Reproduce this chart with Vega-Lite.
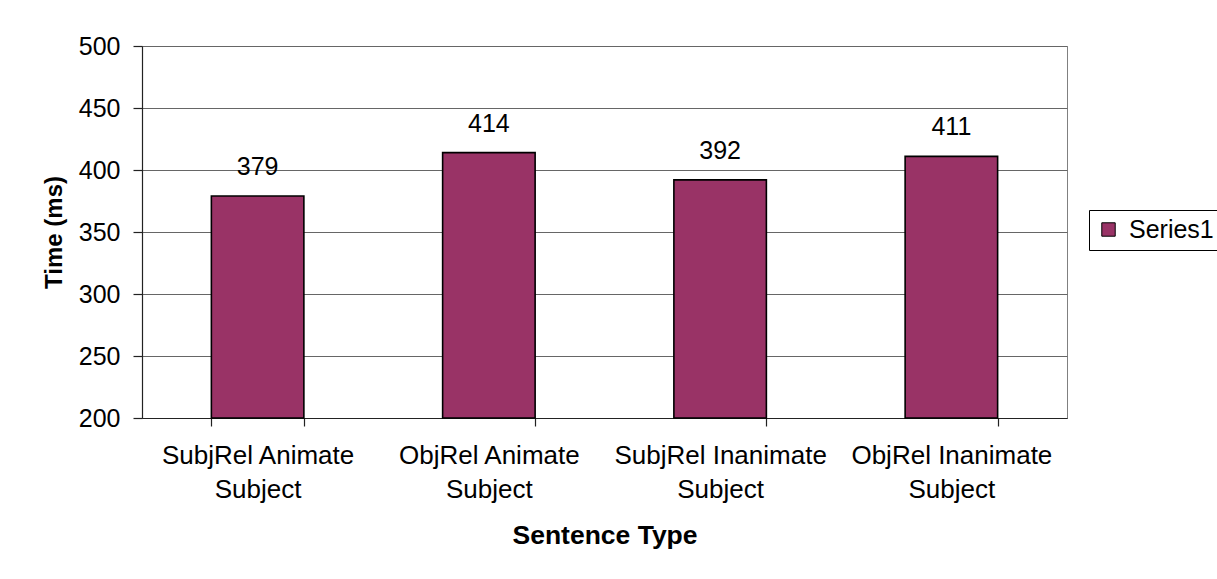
{
  "$schema": "https://vega.github.io/schema/vega-lite/v6.json",
  "autosize": {"type": "none"},
  "padding": {"left": 142, "top": 46, "right": 150, "bottom": 161},
  "width": 925,
  "height": 372,
  "background": "white",
  "config": {
    "font": "Liberation Sans",
    "view": {"stroke": "#808080", "strokeWidth": 1},
    "axis": {
      "labelFont": "Liberation Sans",
      "titleFont": "Liberation Sans",
      "labelColor": "black",
      "titleColor": "black",
      "domainColor": "#222",
      "tickColor": "#222",
      "domainWidth": 1.2,
      "tickWidth": 1.2
    }
  },
  "data": {
    "values": [
      {"type": "SubjRel Animate Subject", "time": 379, "series": "Series1"},
      {"type": "ObjRel Animate Subject", "time": 414, "series": "Series1"},
      {"type": "SubjRel Inanimate Subject", "time": 392, "series": "Series1"},
      {"type": "ObjRel Inanimate Subject", "time": 411, "series": "Series1"}
    ]
  },
  "encoding": {
    "x": {
      "field": "type",
      "type": "nominal",
      "sort": null,
      "scale": {"paddingInner": 0.6, "paddingOuter": 0.3},
      "axis": {
        "title": "Sentence Type",
        "titleFontSize": 26.5,
        "titleFontWeight": "bold",
        "titleY": 125,
        "titleBaseline": "alphabetic",
        "labelAngle": 0,
        "labelFontSize": 26,
        "labelLineHeight": 34,
        "labelPadding": 16,
        "labelBaseline": "top",
        "labelLimit": 0,
        "tickBand": "extent",
        "tickSize": 8,
        "labelExpr": "[substring(datum.label, 0, lastindexof(datum.label, ' ')), substring(datum.label, lastindexof(datum.label, ' ') + 1)]"
      }
    },
    "y": {
      "field": "time",
      "type": "quantitative",
      "scale": {"domain": [200, 500], "nice": false, "zero": false},
      "axis": {
        "title": "Time (ms)",
        "titleFontSize": 24,
        "titleFontWeight": "bold",
        "titleX": -81,
        "titleBaseline": "alphabetic",
        "values": [200, 250, 300, 350, 400, 450, 500],
        "labelFontSize": 25,
        "labelPadding": 13,
        "tickSize": 9,
        "grid": true,
        "gridColor": "#666",
        "gridWidth": 1
      }
    }
  },
  "layer": [
    {
      "mark": {"type": "bar", "stroke": "black", "strokeWidth": 1.6},
      "encoding": {
        "y2": {"datum": 200},
        "color": {
          "field": "series",
          "type": "nominal",
          "scale": {"range": ["#993366"]},
          "legend": {
            "title": null,
            "orient": "none",
            "legendX": 947,
            "legendY": 164,
            "strokeColor": "black",
            "fillColor": "white",
            "padding": 7,
            "symbolType": "square",
            "symbolSize": 180,
            "symbolStrokeColor": "black",
            "symbolStrokeWidth": 1,
            "labelFont": "Liberation Sans",
            "labelFontSize": 25,
            "labelColor": "black",
            "labelOffset": 8
          }
        }
      }
    },
    {
      "mark": {"type": "text", "fontSize": 25, "baseline": "alphabetic", "dy": -21, "color": "black"},
      "encoding": {"text": {"field": "time", "type": "quantitative"}}
    }
  ]
}
